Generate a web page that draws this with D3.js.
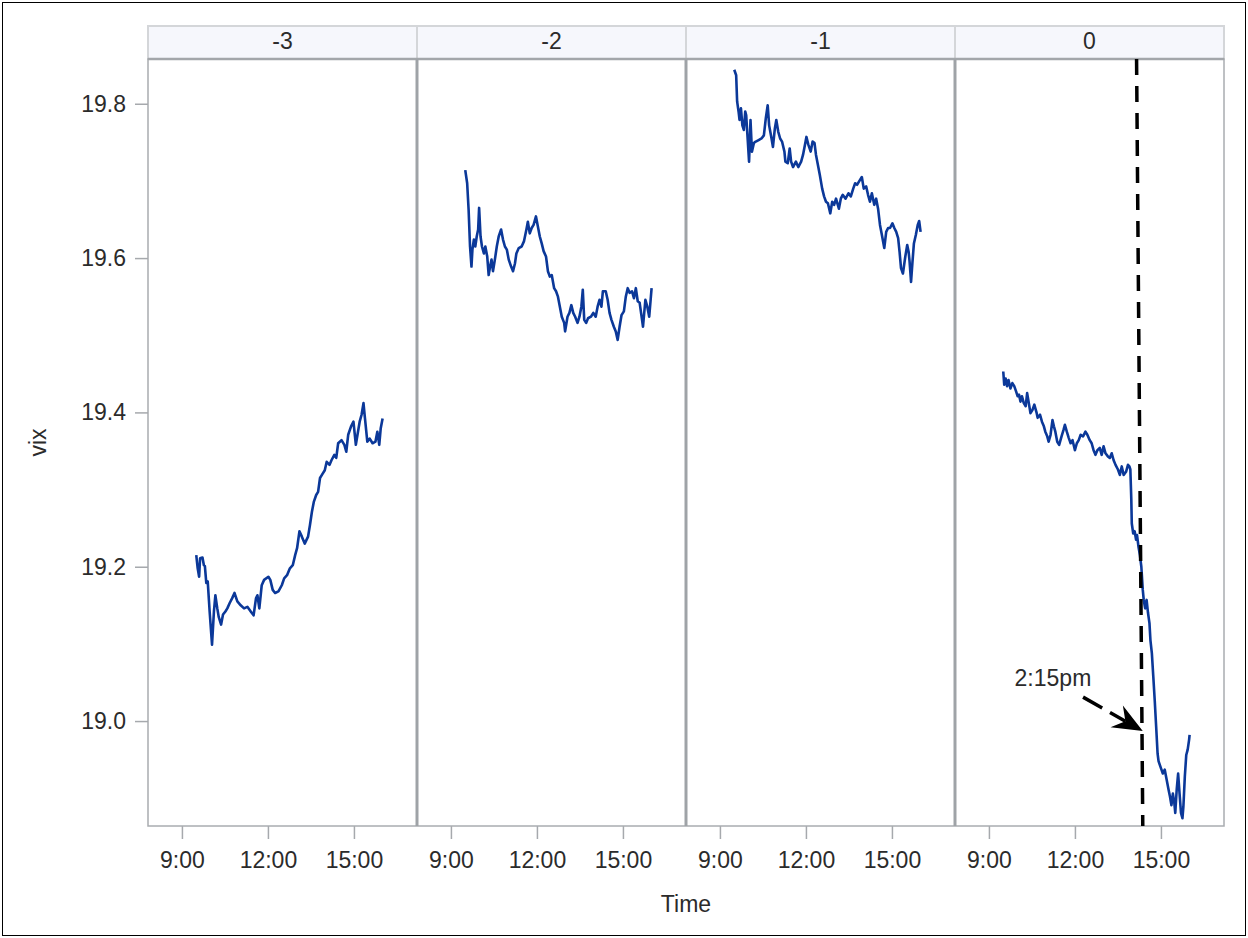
<!DOCTYPE html>
<html>
<head>
<meta charset="utf-8">
<script src="https://cdn.jsdelivr.net/npm/d3@7"></script>
<style>
  html, body { margin: 0; padding: 0; background: #fff; }
  svg { display: block; }
  text { font-family: "Liberation Sans", Arial, sans-serif; fill: #2b2b2b; }
</style>
</head>
<body>
<svg id="chart" width="1248" height="938"></svg>
<script>
// Intraday VIX by day relative to the event day
const dayLabels = ["-3", "-2", "-1", "0"];

const dayMinus3 = [
  ["9:30",19.215],["9:33",19.198],["9:36",19.187],["9:38",19.211],["9:43",19.212],["9:46",19.202],
  ["9:48",19.201],["9:51",19.179],["9:54",19.181],["9:58",19.142],["10:03",19.099],["10:07",19.142],
  ["10:10",19.163],["10:14",19.146],["10:17",19.135],["10:22",19.125],["10:26",19.138],["10:31",19.142],
  ["10:35",19.146],["10:40",19.153],["10:45",19.159],["10:50",19.166],["10:56",19.155],["11:03",19.150],
  ["11:10",19.146],["11:17",19.148],["11:24",19.142],["11:30",19.137],["11:35",19.159],["11:38",19.163],
  ["11:42",19.146],["11:47",19.176],["11:52",19.183],["12:01",19.187],["12:05",19.183],["12:10",19.170],
  ["12:15",19.166],["12:22",19.168],["12:29",19.176],["12:34",19.185],["12:40",19.189],["12:46",19.198],
  ["12:52",19.202],["12:57",19.215],["13:01",19.224],["13:06",19.246],["13:11",19.239],["13:17",19.230],
  ["13:24",19.239],["13:28",19.254],["13:32",19.271],["13:36",19.284],["13:41",19.293],["13:45",19.297],
  ["13:49",19.315],["13:53",19.319],["13:59",19.325],["14:03",19.336],["14:09",19.332],["14:13",19.338],
  ["14:19",19.345],["14:23",19.341],["14:27",19.360],["14:34",19.364],["14:40",19.358],["14:44",19.349],
  ["14:48",19.371],["14:54",19.382],["14:59",19.388],["15:04",19.358],["15:08",19.373],["15:12",19.388],
  ["15:16",19.397],["15:20",19.412],["15:23",19.393],["15:28",19.362],["15:33",19.366],["15:39",19.360],
  ["15:45",19.362],["15:49",19.375],["15:53",19.358],["15:56",19.379],["16:00",19.392]
];

const dayMinus2 = [
  ["9:30",19.714],["9:34",19.697],["9:37",19.663],["9:40",19.615],["9:43",19.589],["9:45",19.611],
  ["9:48",19.624],["9:51",19.615],["9:54",19.628],["9:57",19.637],["9:59",19.665],["10:02",19.628],
  ["10:05",19.615],["10:09",19.606],["10:12",19.615],["10:16",19.602],["10:19",19.578],["10:22",19.589],
  ["10:25",19.598],["10:28",19.583],["10:32",19.598],["10:36",19.615],["10:40",19.628],["10:45",19.637],
  ["10:49",19.624],["10:53",19.615],["10:57",19.611],["11:01",19.598],["11:06",19.589],["11:10",19.583],
  ["11:14",19.593],["11:17",19.606],["11:22",19.613],["11:28",19.615],["11:33",19.622],["11:38",19.637],
  ["11:41",19.647],["11:45",19.632],["11:49",19.639],["11:53",19.643],["11:58",19.654],["12:02",19.641],
  ["12:06",19.628],["12:10",19.619],["12:14",19.609],["12:19",19.602],["12:23",19.583],["12:27",19.576],
  ["12:31",19.578],["12:36",19.561],["12:40",19.557],["12:44",19.550],["12:48",19.537],["12:52",19.524],
  ["12:57",19.516],["12:59",19.505],["13:04",19.524],["13:08",19.529],["13:12",19.539],["13:16",19.529],
  ["13:20",19.524],["13:25",19.516],["13:29",19.524],["13:33",19.537],["13:36",19.559],["13:39",19.520],
  ["13:43",19.516],["13:47",19.522],["13:53",19.524],["13:58",19.529],["14:03",19.524],["14:07",19.537],
  ["14:11",19.546],["14:15",19.537],["14:18",19.557],["14:24",19.557],["14:28",19.546],["14:32",19.529],
  ["14:36",19.520],["14:41",19.511],["14:45",19.505],["14:49",19.494],["14:53",19.511],["14:57",19.526],
  ["15:02",19.531],["15:06",19.550],["15:10",19.561],["15:14",19.555],["15:19",19.557],["15:23",19.548],
  ["15:27",19.561],["15:31",19.544],["15:35",19.542],["15:40",19.520],["15:42",19.511],["15:47",19.546],
  ["15:51",19.537],["15:55",19.524],["15:58",19.546],["16:00",19.561]
];

const dayMinus1 = [
  ["9:30",19.844],["9:34",19.837],["9:36",19.803],["9:39",19.790],["9:41",19.779],["9:44",19.794],
  ["9:47",19.772],["9:50",19.766],["9:53",19.790],["9:55",19.785],["9:58",19.755],["10:01",19.725],
  ["10:04",19.779],["10:07",19.738],["10:11",19.749],["10:15",19.751],["10:21",19.753],["10:27",19.755],
  ["10:32",19.759],["10:36",19.781],["10:40",19.798],["10:43",19.772],["10:48",19.755],["10:51",19.744],
  ["10:55",19.768],["10:58",19.779],["11:02",19.764],["11:06",19.755],["11:10",19.751],["11:15",19.738],
  ["11:17",19.725],["11:22",19.723],["11:26",19.742],["11:29",19.725],["11:33",19.718],["11:39",19.725],
  ["11:44",19.718],["11:50",19.725],["11:54",19.734],["11:58",19.747],["12:01",19.757],["12:05",19.747],
  ["12:10",19.738],["12:14",19.751],["12:18",19.749],["12:21",19.734],["12:25",19.721],["12:29",19.708],
  ["12:34",19.690],["12:38",19.680],["12:42",19.673],["12:46",19.671],["12:51",19.658],["12:55",19.673],
  ["12:59",19.669],["13:03",19.677],["13:09",19.664],["13:13",19.677],["13:17",19.682],["13:23",19.677],
  ["13:29",19.684],["13:34",19.680],["13:39",19.690],["13:43",19.697],["13:47",19.695],["13:51",19.699],
  ["13:57",19.705],["14:01",19.690],["14:06",19.693],["14:10",19.682],["14:14",19.673],["14:18",19.684],
  ["14:23",19.669],["14:27",19.677],["14:31",19.664],["14:35",19.643],["14:39",19.630],["14:44",19.613],
  ["14:48",19.634],["14:52",19.639],["14:56",19.639],["15:01",19.645],["15:05",19.639],["15:09",19.634],
  ["15:13",19.626],["15:16",19.608],["15:19",19.587],["15:23",19.580],["15:28",19.602],["15:32",19.617],
  ["15:35",19.608],["15:37",19.595],["15:40",19.569],["15:43",19.595],["15:46",19.619],["15:50",19.630],
  ["15:54",19.643],["15:57",19.648],["16:00",19.634]
];

const dayZero = [
  ["9:30",19.453],["9:32",19.436],["9:35",19.444],["9:38",19.434],["9:41",19.442],["9:45",19.431],
  ["9:49",19.438],["9:53",19.434],["9:57",19.427],["10:00",19.421],["10:03",19.423],["10:06",19.414],
  ["10:09",19.421],["10:13",19.412],["10:17",19.408],["10:20",19.425],["10:23",19.414],["10:27",19.399],
  ["10:31",19.403],["10:35",19.410],["10:40",19.399],["10:42",19.393],["10:47",19.397],["10:51",19.388],
  ["10:55",19.382],["10:58",19.375],["11:02",19.369],["11:05",19.362],["11:09",19.371],["11:13",19.390],
  ["11:16",19.382],["11:19",19.375],["11:23",19.362],["11:27",19.358],["11:32",19.369],["11:36",19.377],
  ["11:39",19.384],["11:43",19.375],["11:47",19.367],["11:51",19.360],["11:55",19.364],["12:00",19.351],
  ["12:04",19.360],["12:08",19.364],["12:12",19.371],["12:17",19.369],["12:22",19.375],["12:26",19.371],
  ["12:31",19.364],["12:35",19.360],["12:39",19.351],["12:43",19.345],["12:47",19.351],["12:52",19.354],
  ["12:56",19.345],["13:00",19.356],["13:04",19.347],["13:09",19.343],["13:13",19.341],["13:17",19.347],
  ["13:21",19.338],["13:25",19.332],["13:30",19.326],["13:34",19.319],["13:38",19.330],["13:42",19.319],
  ["13:47",19.323],["13:51",19.332],["13:54",19.330],["13:56",19.326],["13:58",19.287],["13:59",19.256],
  ["14:02",19.243],["14:05",19.246],["14:08",19.235],["14:10",19.241],["14:13",19.226],["14:16",19.215],
  ["14:19",19.200],["14:22",19.170],["14:24",19.157],["14:27",19.146],["14:30",19.157],["14:33",19.140],
  ["14:36",19.127],["14:38",19.105],["14:41",19.088],["14:44",19.058],["14:47",19.027],["14:50",18.993],
  ["14:53",18.958],["14:55",18.948],["15:00",18.939],["15:04",18.932],["15:08",18.937],["15:12",18.924],
  ["15:16",18.911],["15:19",18.902],["15:22",18.891],["15:25",18.906],["15:28",18.894],["15:30",18.881],
  ["15:33",18.911],["15:36",18.932],["15:39",18.906],["15:42",18.881],["15:45",18.874],["15:47",18.889],
  ["15:50",18.928],["15:53",18.956],["15:56",18.963],["15:59",18.976],["16:00",18.982]
];

const seriesByDay = [dayMinus3, dayMinus2, dayMinus1, dayZero];

const yTicks = [19.0, 19.2, 19.4, 19.6, 19.8];
const xTickLabels = ["9:00", "12:00", "15:00"];
const timeDomain = ["7:49", "17:12"];
const yDomain = [18.864, 19.858];

// Reference line for the 2:15pm event and its callout
const markerLine = [["14:09", 19.858], ["14:22", 18.864]];
const calloutText = "2:15pm";
const calloutLabelAt = ["11:14", 19.056];
const calloutFrom = ["12:17", 19.031];
const calloutTo = ["14:22", 18.987];

const toMin = s => { const [h, m] = s.split(":").map(Number); return h * 60 + m; };

const svg = d3.select("#chart");
const W = 1248, H = 938;
const fLeft = 148, fRight = 1224, fTop = 59, fBottom = 826, stripTop = 26;
const pw = (fRight - fLeft) / dayLabels.length;
const font = 23;
const ff = '"Liberation Sans", Arial, sans-serif';

// outer border
svg.append("rect").attr("x", 2.5).attr("y", 2.5).attr("width", W - 5).attr("height", H - 5)
  .attr("fill", "#fff").attr("stroke", "#000").attr("stroke-width", 1);

const y = d3.scaleLinear().domain(yDomain).range([fBottom, fTop]);

const panelX = i => d3.scaleLinear()
  .domain(timeDomain.map(toMin))
  .range([fLeft + i * pw, fLeft + (i + 1) * pw]);

// strip headers
dayLabels.forEach((lab, i) => {
  const sx = fLeft + i * pw;
  svg.append("rect").attr("x", sx).attr("y", stripTop).attr("width", pw).attr("height", fTop - stripTop)
    .attr("fill", "#f6f7fc").attr("stroke", "#d4d6d9").attr("stroke-width", 2);
  svg.append("text").attr("x", sx + pw / 2).attr("y", 49).attr("text-anchor", "middle")
    .style("font-size", font + "px").text(lab);
});

// panel lines and time axes
const lineFor = xs => d3.line().x(d => xs(toMin(d[0]))).y(d => y(d[1]));

seriesByDay.forEach((data, i) => {
  const xs = panelX(i);
  svg.append("path").datum(data).attr("d", lineFor(xs))
    .attr("fill", "none").attr("stroke", "#0b3899").attr("stroke-width", 2.6)
    .attr("stroke-linejoin", "round");

  const ax = d3.axisBottom(xs)
    .tickValues(xTickLabels.map(toMin))
    .tickFormat((d, k) => xTickLabels[k])
    .tickSize(13).tickPadding(13);
  const ag = svg.append("g").attr("transform", `translate(0,${fBottom})`).call(ax);
  ag.select(".domain").remove();
  ag.selectAll(".tick line").attr("stroke", "#a6a9ad").attr("stroke-width", 1.5);
  ag.selectAll(".tick text").style("font-size", font + "px").attr("fill", "#2b2b2b")
    .style("font-family", ff);
});

// panel frame and separators
svg.append("rect").attr("x", fLeft).attr("y", fTop).attr("width", fRight - fLeft).attr("height", fBottom - fTop)
  .attr("fill", "none").attr("stroke", "#a9acb0").attr("stroke-width", 1.5);
svg.append("line").attr("x1", fLeft).attr("x2", fRight).attr("y1", fTop).attr("y2", fTop)
  .attr("stroke", "#a3a6aa").attr("stroke-width", 2.5);
for (let i = 1; i < dayLabels.length; i++) {
  const sx = fLeft + i * pw;
  svg.append("line").attr("x1", sx).attr("x2", sx).attr("y1", fTop).attr("y2", fBottom)
    .attr("stroke", "#9fa3a7").attr("stroke-width", 3);
}

// y axis
const ya = d3.axisLeft(y).tickValues(yTicks).tickFormat(d3.format(".1f")).tickSize(13).tickPadding(9);
const yg = svg.append("g").attr("transform", `translate(${fLeft},0)`).call(ya);
yg.select(".domain").remove();
yg.selectAll(".tick line").attr("stroke", "#a6a9ad").attr("stroke-width", 1.5);
yg.selectAll(".tick text").style("font-size", font + "px").attr("fill", "#2b2b2b")
  .style("font-family", ff);

// axis titles
svg.append("text").attr("transform", `translate(46,${(fTop + fBottom) / 2}) rotate(-90)`)
  .attr("text-anchor", "middle").style("font-size", font + "px").text("vix");
svg.append("text").attr("x", (fLeft + fRight) / 2).attr("y", 912).attr("text-anchor", "middle")
  .style("font-size", font + "px").text("Time");

// event marker on day 0
const xz = panelX(dayLabels.length - 1);
svg.append("line")
  .attr("x1", xz(toMin(markerLine[0][0]))).attr("y1", y(markerLine[0][1]))
  .attr("x2", xz(toMin(markerLine[1][0]))).attr("y2", y(markerLine[1][1]))
  .attr("stroke", "#000").attr("stroke-width", 3.5).attr("stroke-dasharray", "16,11");

// callout arrow
const ax1 = xz(toMin(calloutFrom[0])), ay1 = y(calloutFrom[1]);
const ax2 = xz(toMin(calloutTo[0])), ay2 = y(calloutTo[1]);
const len = Math.hypot(ax2 - ax1, ay2 - ay1);
const ux = (ax2 - ax1) / len, uy = (ay2 - ay1) / len;
const nx = -uy, ny = ux;
const headBack = 30, headHalf = 12.5, notch = 20;
svg.append("line")
  .attr("x1", ax1).attr("y1", ay1)
  .attr("x2", ax2 - ux * notch).attr("y2", ay2 - uy * notch)
  .attr("stroke", "#000").attr("stroke-width", 3.5).attr("stroke-dasharray", "22,9");
const head = [
  [ax2, ay2],
  [ax2 - ux * headBack + nx * headHalf, ay2 - uy * headBack + ny * headHalf],
  [ax2 - ux * notch, ay2 - uy * notch],
  [ax2 - ux * headBack - nx * headHalf, ay2 - uy * headBack - ny * headHalf]
];
svg.append("path").attr("d", d3.line()(head) + "Z").attr("fill", "#000");

svg.append("text").attr("x", xz(toMin(calloutLabelAt[0]))).attr("y", y(calloutLabelAt[1]))
  .attr("dy", "0.35em").attr("text-anchor", "middle").style("font-size", font + "px").text(calloutText);
</script>
</body>
</html>
